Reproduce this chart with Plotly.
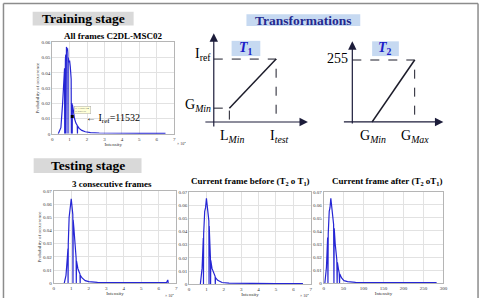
import plotly.graph_objects as go

# ---------------- data ----------------
# Training histogram (intensity in units of 1e4)
train_x = [0.35, 0.50, 0.60, 0.68, 0.71, 0.72, 0.73, 0.76, 0.78, 0.79, 0.80, 0.82, 0.85, 0.88, 0.90, 0.91,
           0.92, 0.96, 1.00, 1.04, 1.08, 1.09, 1.10, 1.14, 1.15, 1.16, 1.22, 1.28, 1.36, 1.44, 1.45, 1.46,
           1.55, 1.70, 1.90, 2.20, 2.70, 3.50, 4.50, 5.50, 6.50]
train_y = [0.0, 0.004, 0.020, 0.040, 0.043, 0.0, 0.045, 0.049, 0.052, 0.0, 0.054, 0.057, 0.055, 0.056, 0.053, 0.0,
           0.050, 0.047, 0.048, 0.044, 0.038, 0.036, 0.0, 0.020, 0.0, 0.019, 0.015, 0.010, 0.007, 0.0055, 0.0, 0.005,
           0.0035, 0.0022, 0.0013, 0.0008, 0.0005, 0.0003, 0.0002, 0.0002, 0.0002]
iref_x = [1.1532]
iref_y = [0.0113]

# Testing: 3 consecutive frames
cons_x = [0.60, 0.70, 0.78, 0.81, 0.82, 0.83, 0.88, 0.92, 0.96, 1.00, 1.03, 1.06, 1.09, 1.10, 1.11,
          1.15, 1.20, 1.25, 1.28, 1.29, 1.30, 1.38, 1.46, 1.50, 1.51, 1.52, 1.62, 1.80, 2.00, 2.50,
          3.50, 4.50, 5.50, 6.45, 6.52, 6.55]
cons_y = [0.0, 0.006, 0.020, 0.026, 0.0, 0.030, 0.050, 0.056, 0.060, 0.064, 0.060, 0.054, 0.052, 0.0, 0.048,
          0.042, 0.033, 0.024, 0.019, 0.0, 0.017, 0.011, 0.008, 0.007, 0.0, 0.006, 0.004, 0.002, 0.0012, 0.0007,
          0.0005, 0.0004, 0.0004, 0.0005, 0.0025, 0.0]

# Current frame before (T2 o T1)
before_x = [0.65, 0.75, 0.82, 0.83, 0.84, 0.90, 0.95, 1.00, 1.04, 1.08, 1.12, 1.14, 1.15, 1.16, 1.20,
            1.23, 1.24, 1.25, 1.32, 1.40, 1.50, 1.51, 1.52, 1.65, 1.90, 2.30, 3.00, 4.00, 5.00, 6.00, 6.55]
before_y = [0.0, 0.012, 0.035, 0.0, 0.038, 0.055, 0.058, 0.065, 0.060, 0.055, 0.050, 0.048, 0.0, 0.044, 0.030,
            0.020, 0.0, 0.018, 0.012, 0.009, 0.006, 0.0, 0.005, 0.003, 0.0013, 0.0008, 0.0006, 0.0005, 0.0005,
            0.0005, 0.0005]

# Current frame after (T2 o T1), intensity 0..255
after_x = [3, 7, 10, 10.8, 11.5, 14, 16, 18, 20, 22, 24, 25, 25.8, 26.5, 29, 32, 33, 33.8, 34.5, 37, 39,
           39.8, 40.5, 45, 51, 60, 80, 120, 180, 240, 283]
after_y = [0.0, 0.012, 0.035, 0.0, 0.038, 0.055, 0.058, 0.065, 0.060, 0.055, 0.050, 0.045, 0.0, 0.042, 0.030,
           0.020, 0.018, 0.0, 0.016, 0.011, 0.008, 0.0, 0.007, 0.004, 0.002, 0.0012, 0.0007, 0.0005, 0.0004,
           0.0004, 0.0004]

# Schematic transforms
L_MIN, I_TEST = 0.25, 1.0
G_MIN1, I_REF = 0.22, 1.0
G_MIN2, G_MAX = 0.317, 1.0
OUT_LOW, OUT_HIGH = 0, 255

# ---------------- helpers ----------------
W, H = 485, 301
def px(x): return x / W
def py(y): return 1 - y / H

SERIF = "Liberation Serif"
BLUE = "#2626d4"
DARK = "#1c1c2a"

fig = go.Figure()

def hist(xv, yv, ax):
    fig.add_trace(go.Scatter(x=xv, y=yv, xaxis="x" + ax, yaxis="y" + ax, mode="lines",
                             line=dict(color=BLUE, width=1.2), showlegend=False, hoverinfo="skip"))

hist(train_x, train_y, "")
hist(cons_x, cons_y, "2")
hist(before_x, before_y, "3")
hist(after_x, after_y, "4")
fig.add_trace(go.Scatter(x=iref_x, y=iref_y, mode="markers", showlegend=False, hoverinfo="skip",
                         marker=dict(color="black", size=3, symbol="square")))

# T1 diagram
fig.add_trace(go.Scatter(x=[0, I_TEST, I_TEST, None, 0, L_MIN, L_MIN],
                         y=[I_REF, I_REF, 0, None, G_MIN1, G_MIN1, 0],
                         xaxis="x5", yaxis="y5", mode="lines", showlegend=False, hoverinfo="skip",
                         line=dict(color=DARK, width=1, dash="dash")))
fig.add_trace(go.Scatter(x=[L_MIN, I_TEST], y=[G_MIN1, I_REF], xaxis="x5", yaxis="y5", mode="lines",
                         showlegend=False, hoverinfo="skip", line=dict(color=DARK, width=1.5)))
# T2 diagram
fig.add_trace(go.Scatter(x=[0, G_MAX, G_MAX], y=[OUT_HIGH, OUT_HIGH, OUT_LOW],
                         xaxis="x6", yaxis="y6", mode="lines", showlegend=False, hoverinfo="skip",
                         line=dict(color=DARK, width=1, dash="dash")))
fig.add_trace(go.Scatter(x=[G_MIN2, G_MAX], y=[OUT_LOW, OUT_HIGH], xaxis="x6", yaxis="y6", mode="lines",
                         showlegend=False, hoverinfo="skip", line=dict(color=DARK, width=1.5)))

tickfont = dict(family=SERIF, size=5, color="#333")
def hax(dom, rng, dtick, anchor, title):
    return dict(domain=[px(dom[0]), px(dom[1])], range=rng, dtick=dtick, anchor=anchor,
                showline=True, linecolor="#b5b5b5", linewidth=0.8, mirror=True,
                showgrid=True, gridcolor="#e2e2e2", gridwidth=0.6, zeroline=False,
                ticks="", tickfont=tickfont, fixedrange=True,
                title=dict(text=title, font=dict(family=SERIF, size=5, color="#333"), standoff=1))
def vax(dom, rng, dtick, anchor, title):
    d = hax((0, 1), rng, dtick, anchor, title)
    d["domain"] = [py(dom[1]), py(dom[0])]
    return d

layout = dict(
    width=W, height=H, margin=dict(l=0, r=0, t=0, b=0),
    paper_bgcolor="white", plot_bgcolor="white",
    xaxis=hax((51.7, 175), [0, 7], 1, "y", "Intensity"),
    yaxis=vax((41, 134), [0, 0.06], 0.01, "x", "Probability of occurrence"),
    xaxis2=hax((53.3, 177), [0, 7], 1, "y2", "Intensity"),
    yaxis2=vax((192, 286), [0, 0.07], 0.01, "x2", "Probability of occurrence"),
    xaxis3=hax((190, 313), [0, 7], 1, "y3", "Intensity"),
    yaxis3=vax((193, 287), [0, 0.07], 0.01, "x3", ""),
    xaxis4=hax((326, 447), [0, 300], 50, "y4", "Intensity"),
    yaxis4=vax((193, 286), [0, 0.07], 0.01, "x4", ""),
    xaxis5=dict(domain=[px(200), px(320)], range=[-0.238, 1.667], visible=False, anchor="y5", fixedrange=True),
    yaxis5=dict(domain=[py(145), py(25)], range=[-0.359, 1.516], visible=False, anchor="x5", fixedrange=True),
    xaxis6=dict(domain=[px(335), px(460)], range=[-0.317, 1.667], visible=False, anchor="y6", fixedrange=True),
    yaxis6=dict(domain=[py(145), py(25)], range=[-93.1, 392.6], visible=False, anchor="x6", fixedrange=True),
)
fig.update_layout(**layout)

shapes = []
def rect(x0, y0, x1, y1, color):
    shapes.append(dict(type="rect", xref="paper", yref="paper", x0=px(x0), x1=px(x1), y0=py(y1), y1=py(y0),
                       fillcolor=color, line=dict(width=0), layer="below"))
rect(32, 10, 134, 24, "#d9d9d9")
rect(248, 12.5, 363, 24.5, "#c6d9f1")
rect(33, 159, 142, 174, "#d9d9d9")
rect(233, 39.5, 262, 55, "#c6d9f1")
rect(375, 40, 402, 55, "#c6d9f1")
for (x0, y0, x1, y1) in [(2.5, 1.5, 2.5, 301), (2.5, 1.5, 482, 1.5), (482, 1.5, 482, 301)]:
    shapes.append(dict(type="line", xref="paper", yref="paper", x0=px(x0), x1=px(x1), y0=py(y0), y1=py(y1),
                       line=dict(color="#8c8c8c", width=1.5)))
fig.update_layout(shapes=shapes)

ann = []
def ptext(x, y, text, size, color="black", xanchor="center", yanchor="middle"):
    ann.append(dict(x=px(x), y=py(y), xref="paper", yref="paper", text=text, showarrow=False,
                    xanchor=xanchor, yanchor=yanchor, font=dict(family=SERIF, size=size, color=color)))
ptext(83, 17, "<b>Training stage</b>", 13.5)
ptext(305.5, 18.5, "<b>Transformations</b>", 13.5, color="#24298f")
ptext(87.5, 166.5, "<b>Testing stage</b>", 13.5)
ptext(113, 35, "<b>All frames C2DL-MSC02</b>", 9)
ptext(112, 185, "<b>3 consecutive frames</b>", 9)
ptext(252, 183, "<b>Current frame before (T<sub>2</sub> o T<sub>1</sub>)</b>", 9)
ptext(390, 183, "<b>Current frame after (T<sub>2</sub> oT<sub>1</sub>)</b>", 9)
ptext(247.5, 47.5, "<b><i>T</i><sub>1</sub></b>", 14, color="#1c1cc8")
ptext(388.5, 47.5, "<b><i>T</i><sub>2</sub></b>", 14, color="#1c1cc8")
ptext(182, 143.5, "× 10<sup>4</sup>", 4, color="#333")
ptext(170, 298, "× 10<sup>4</sup>", 4, color="#333")
ptext(307, 298, "× 10<sup>4</sup>", 4, color="#333")

def dtext(x, y, ax, text, size, xanchor="center", yanchor="middle"):
    ann.append(dict(x=x, y=y, xref="x" + ax, yref="y" + ax, text=text, showarrow=False,
                    xanchor=xanchor, yanchor=yanchor, font=dict(family=SERIF, size=size, color="black")))
def arrow(x0, y0, x1, y1, ax):
    ann.append(dict(x=x1, y=y1, ax=x0, ay=y0, xref="x" + ax, yref="y" + ax, axref="x" + ax, ayref="y" + ax,
                    text="", showarrow=True, arrowhead=2, arrowsize=1.4, arrowwidth=1.2, arrowcolor="#1c1c3a"))

# T1 axes and labels
arrow(-0.159, 0, 1.51, 0, "5")
arrow(0, -0.094, 0, 1.41, "5")
dtext(-0.02, I_REF + 0.07, "5", "I<sub>ref</sub>", 14, xanchor="right")
dtext(-0.02, G_MIN1 + 0.04, "5", "G<sub><i>Min</i></sub>", 14, xanchor="right")
dtext(L_MIN + 0.04, -0.06, "5", "L<sub><i>Min</i></sub>", 14, yanchor="top")
dtext(I_TEST + 0.06, -0.06, "5", "I<sub><i>test</i></sub>", 14, yanchor="top")
# T2 axes and labels
arrow(-0.159, 0, 1.46, 0, "6")
arrow(0, -12, 0, 332, "6")
dtext(-0.03, OUT_HIGH + 8, "6", "255", 14, xanchor="right")
dtext(G_MIN2 + 0.02, -16, "6", "G<sub><i>Min</i></sub>", 14, yanchor="top")
dtext(G_MAX, -16, "6", "G<sub><i>Max</i></sub>", 14, yanchor="top")

# Training annotations
ann.append(dict(x=1.23, y=0.0155, xref="x", yref="y", text="X: 1.153e+04<br>Y: 0.01137", showarrow=False,
                xanchor="left", yanchor="middle", align="left", font=dict(family=SERIF, size=2.5, color="#333"),
                bgcolor="#ffffd8", bordercolor="#aaa", borderwidth=0.5, borderpad=0.5))
dtext(1.82, 0.0102, "", "← I<sub>ref</sub>=11532", 10, xanchor="left")

fig.update_layout(annotations=ann)
fig.write_html("out.html")
